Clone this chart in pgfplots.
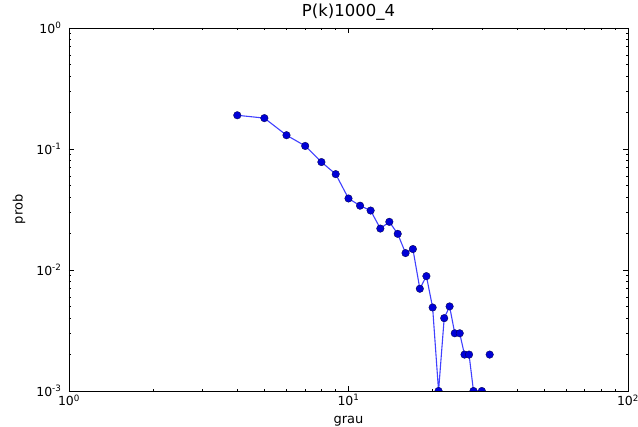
\documentclass[border=0pt]{standalone}
\usepackage{pgfplots}
\pgfplotsset{compat=1.18}
\usepackage{fontspec}
\setmainfont{DejaVu Sans}
\definecolor{lineblue}{RGB}{64,64,255}
\definecolor{markblue}{RGB}{0,0,215}
\begin{document}
\begin{tikzpicture}
\begin{axis}[
  at={(0,0)}, anchor=south west,
  scale only axis,
  width=559pt, height=363pt,
  xmode=log, ymode=log,
  xmin=1, xmax=100, ymin=1e-3, ymax=1,
  tick align=inside,
  xtick pos=both, ytick pos=both,
  major tick length=5pt, minor tick length=2.5pt,
  tick style={black, line width=0.5pt},
  axis line style={black, line width=0.8pt},
  title={P(k)1000\_4},
  title style={font=\fontsize{16.5}{18}\selectfont, at={(axis description cs:0.5,1)}, anchor=base, yshift=5pt},
  xlabel={grau}, ylabel={prob},
  xlabel style={font=\fontsize{13}{15}\selectfont, at={(axis description cs:0.5,0)}, anchor=base, yshift=-33pt},
  ylabel style={font=\fontsize{13}{15}\selectfont, at={(axis description cs:-0.0894,0.5)}, anchor=center},
  tick label style={font=\fontsize{12.5}{14}\selectfont},
  yticklabel style={xshift=-4pt},
  xtick={1,10,100}, ytick={0.001,0.01,0.1,1},
  xticklabels={10\textsuperscript{0},10\textsuperscript{1},10\textsuperscript{2}},
  yticklabels={10\textsuperscript{-3},10\textsuperscript{-2},10\textsuperscript{-1},10\textsuperscript{0}},
  clip marker paths=true,
  unbounded coords=jump,
]
\addplot[color=lineblue, line width=1.1pt,
  mark=*, mark size=3.8pt, mark options={fill=markblue, draw=black!70!markblue, line width=0.3pt}]
  table {
x y
4 0.19
5 0.18
6 0.13
7 0.106
8 0.078
9 0.062
10 0.039
11 0.034
12 0.031
13 0.022
14 0.025
15 0.0199
16 0.0138
17 0.0149
18 0.007
19 0.0089
20 0.0049
21 0.001
22 0.004
23 0.005
24 0.003
25 0.003
26 0.002
27 0.002
28 0.001
30 0.001
31 nan
32 0.002
};
\end{axis}
\pgfresetboundingbox
\path[use as bounding box] (-69pt,-36pt) rectangle (569pt,391pt);
\end{tikzpicture}
\end{document}
